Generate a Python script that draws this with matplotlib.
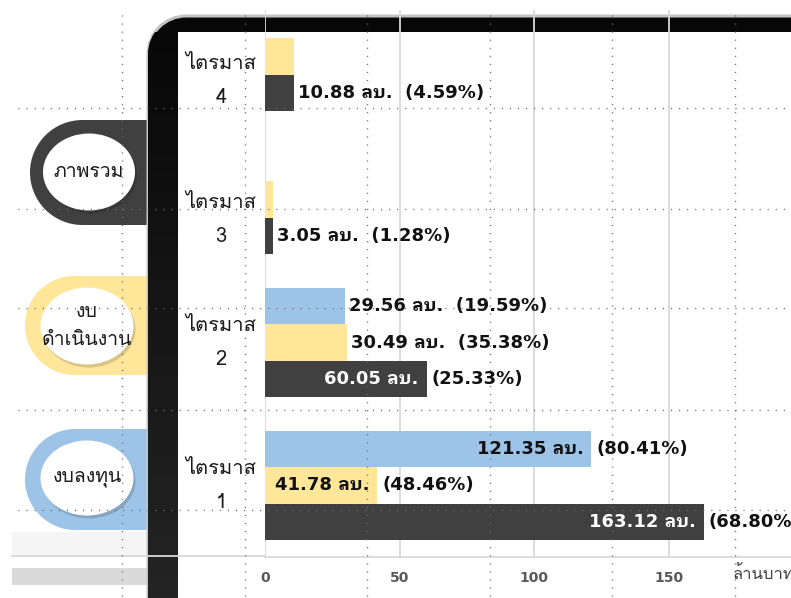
import numpy as np
import matplotlib
matplotlib.use("Agg")
import matplotlib.pyplot as plt
import matplotlib.transforms as mtransforms
from matplotlib.patches import Rectangle, Ellipse, Circle, PathPatch
from matplotlib.path import Path
from matplotlib.colors import LinearSegmentedColormap

plt.rcParams["font.family"] = ["Loma", "DejaVu Sans"]

# ---------------- data (ล้านบาท) ----------------
quarters = ["ไตรมาส\n1", "ไตรมาส\n2", "ไตรมาส\n3", "ไตรมาส\n4"]
capex = [121.35, 29.56, np.nan, np.nan]        # งบลงทุน
capex_pct = [80.41, 19.59, None, None]
opex = [41.78, 30.49, 3.05, 10.88]             # งบดำเนินงาน
opex_pct = [48.46, 35.38, None, None]
total = [163.12, 60.05, 3.05, 10.88]           # ภาพรวม
total_pct = [68.80, 25.33, 1.28, 4.59]
xticks = [0, 50, 100, 150]
unit_label = "ล้านบาท"
groups = ["ภาพรวม", "งบ\nดำเนินงาน", "งบลงทุน"]

C_BLUE, C_YEL, C_DARK = "#9DC3E6", "#FFE699", "#404040"

W, H = 791, 598
fig = plt.figure(figsize=(W / 100, H / 100), dpi=100)

# ---------------- background decoration (pixel coords) ----------------
bg = fig.add_axes([0, 0, 1, 1], zorder=0)
bg.set_xlim(0, W)
bg.set_ylim(H, 0)
bg.axis("off")

bg.add_patch(Rectangle((12, 532), 136, 23, color="#f5f5f5", lw=0))
bg.add_patch(Rectangle((12, 568), 136, 17, color="#dadada", lw=0))

# pills behind the frame
pills = [  # left x, top y, height, colour, ellipse centre, ellipse w/h
    (30, 120, 105, C_DARK, (89, 172), 92, 77),
    (25, 276, 99, C_YEL, (87, 326), 93, 77),
    (25, 429, 101, C_BLUE, (87, 478), 93, 75),
]
for (x0, y0, h, col, ctr, ew, eh), name in zip(pills, groups):
    r = h / 2
    bg.add_patch(Circle((x0 + r, y0 + r), r, fc=col, lw=0))
    bg.add_patch(Rectangle((x0 + r, y0), 160 - x0 - r, h, fc=col, lw=0))
    bg.add_patch(Ellipse((ctr[0] + 2, ctr[1] + 3), ew, eh, fc="#000000", alpha=0.15, lw=0))
    bg.add_patch(Ellipse(ctr, ew, eh, fc="white", lw=0))
    bg.text(ctr[0], ctr[1], name, ha="center", va="center", fontsize=14,
            color="#1a1a1a", linespacing=1.75)

# black frame with rounded top-left corner
fx, fy, rr = 148, 16, 38
arc = Path.arc(180, 270)
arc_pts = arc.vertices * rr + [fx + rr, fy + rr]
verts = [(fx, H + 20)] + [tuple(p) for p in arc_pts] + [(W + 20, fy), (W + 20, H + 20), (fx, H + 20)]
codes = [Path.MOVETO, Path.LINETO] + list(arc.codes[1:]) + [Path.LINETO, Path.LINETO, Path.CLOSEPOLY]
frame = PathPatch(Path(verts, codes), fc="#080808", ec="#c4c4c4", lw=2.2)
bg.add_patch(frame)
grad = np.linspace(0, 1, 256).reshape(-1, 1)
im = bg.imshow(grad, extent=(148, 180, H, 32),
               cmap=LinearSegmentedColormap.from_list("band", ["#080808", "#242424"]),
               aspect="auto", zorder=2.1)
im.set_clip_path(frame)
bg.add_patch(Rectangle((178, 32), 700, 700, fc="white", lw=0, zorder=2.2))

# ---------------- chart ----------------
ax = fig.add_axes([265 / W, (H - 557) / H, (W - 265) / W, 547 / H], zorder=1)
ax.patch.set_alpha(0)
px = 2.69                       # pixels per ล้านบาท
ax.set_xlim(0, (W - 265) / px)
ax.set_ylim(-0.5, -0.5 + 547 / 143)

y = np.arange(len(quarters))
bh = 0.252
series = [(capex, capex_pct, C_BLUE, bh, "#111111"),
          (opex, opex_pct, C_YEL, 0, "#111111"),
          (total, total_pct, C_DARK, -bh, "white")]
lbl_font = ["DejaVu Sans", "IBM Plex Sans Thai Looped", "Loma"]
for vals, pcts, col, off, incol in series:
    ax.barh(y + off, vals, height=bh, color=col, lw=0, zorder=2)
    for yi, v, p in zip(y, vals, pcts):
        if p is None or np.isnan(v):
            continue
        vtxt = f"{v:.2f} ลบ."
        ptxt = f"({p:.2f}%)"
        kw = dict(va="center", fontsize=13, fontweight="bold", family=lbl_font, zorder=4)
        if v > 35:
            ax.annotate(vtxt, (v, yi + off), xytext=(-8, 0), textcoords="offset pixels",
                        ha="right", color=incol, **kw)
            ax.annotate(ptxt, (v, yi + off), xytext=(5, 0), textcoords="offset pixels",
                        ha="left", color="#111111", **kw)
        else:
            ax.annotate(vtxt + "  " + ptxt, (v, yi + off), xytext=(4, 0),
                        textcoords="offset pixels", ha="left", color="#111111", **kw)

# category labels
label_shift = [0, 0, -0.14, -0.17]
tr = mtransforms.offset_copy(ax.get_yaxis_transform(), fig=fig, x=-44, y=0, units="dots")
for yi, q, s in zip(y, quarters, label_shift):
    ax.text(0, yi + s, q, transform=tr, ha="center", va="center", fontsize=14.5,
            color="#1a1a1a", linespacing=2.0, clip_on=False)

ax.set_yticks([])
ax.set_xticks(xticks)
ax.set_xticklabels([str(t) for t in xticks], fontsize=10, fontweight="bold",
                   color="#595959", family=["DejaVu Sans"])
ax.tick_params(axis="x", length=0, pad=10)
ax.grid(axis="x", color="#d9d9d9", lw=1.3, zorder=1)
ax.set_axisbelow(True)
for s in ["top", "right", "left"]:
    ax.spines[s].set_visible(False)
ax.spines["bottom"].set_color("#d9d9d9")
ax.spines["bottom"].set_linewidth(1.3)
fig.text(733 / W, 1 - 575 / H, unit_label, ha="left", va="center",
         fontsize=12, color="#404040")

# ---------------- overlay: guide line + dotted grid ----------------
top = fig.add_axes([0, 0, 1, 1], zorder=5)
top.patch.set_alpha(0)
top.set_xlim(0, W)
top.set_ylim(H, 0)
top.axis("off")
top.plot([12, 265], [556, 556], color="#d9d9d9", lw=1.3)
for yy in [108, 209, 308, 410, 510]:
    top.plot([18, W], [yy, yy], color="#6b6b6b", lw=1.0, dashes=(0.8, 5.0))
for xx in [122, 245, 367, 490, 612, 735]:
    top.plot([xx, xx], [15, H], color="#6b6b6b", lw=1.0, dashes=(0.8, 5.0))

fig.savefig("out.png", dpi=100)
